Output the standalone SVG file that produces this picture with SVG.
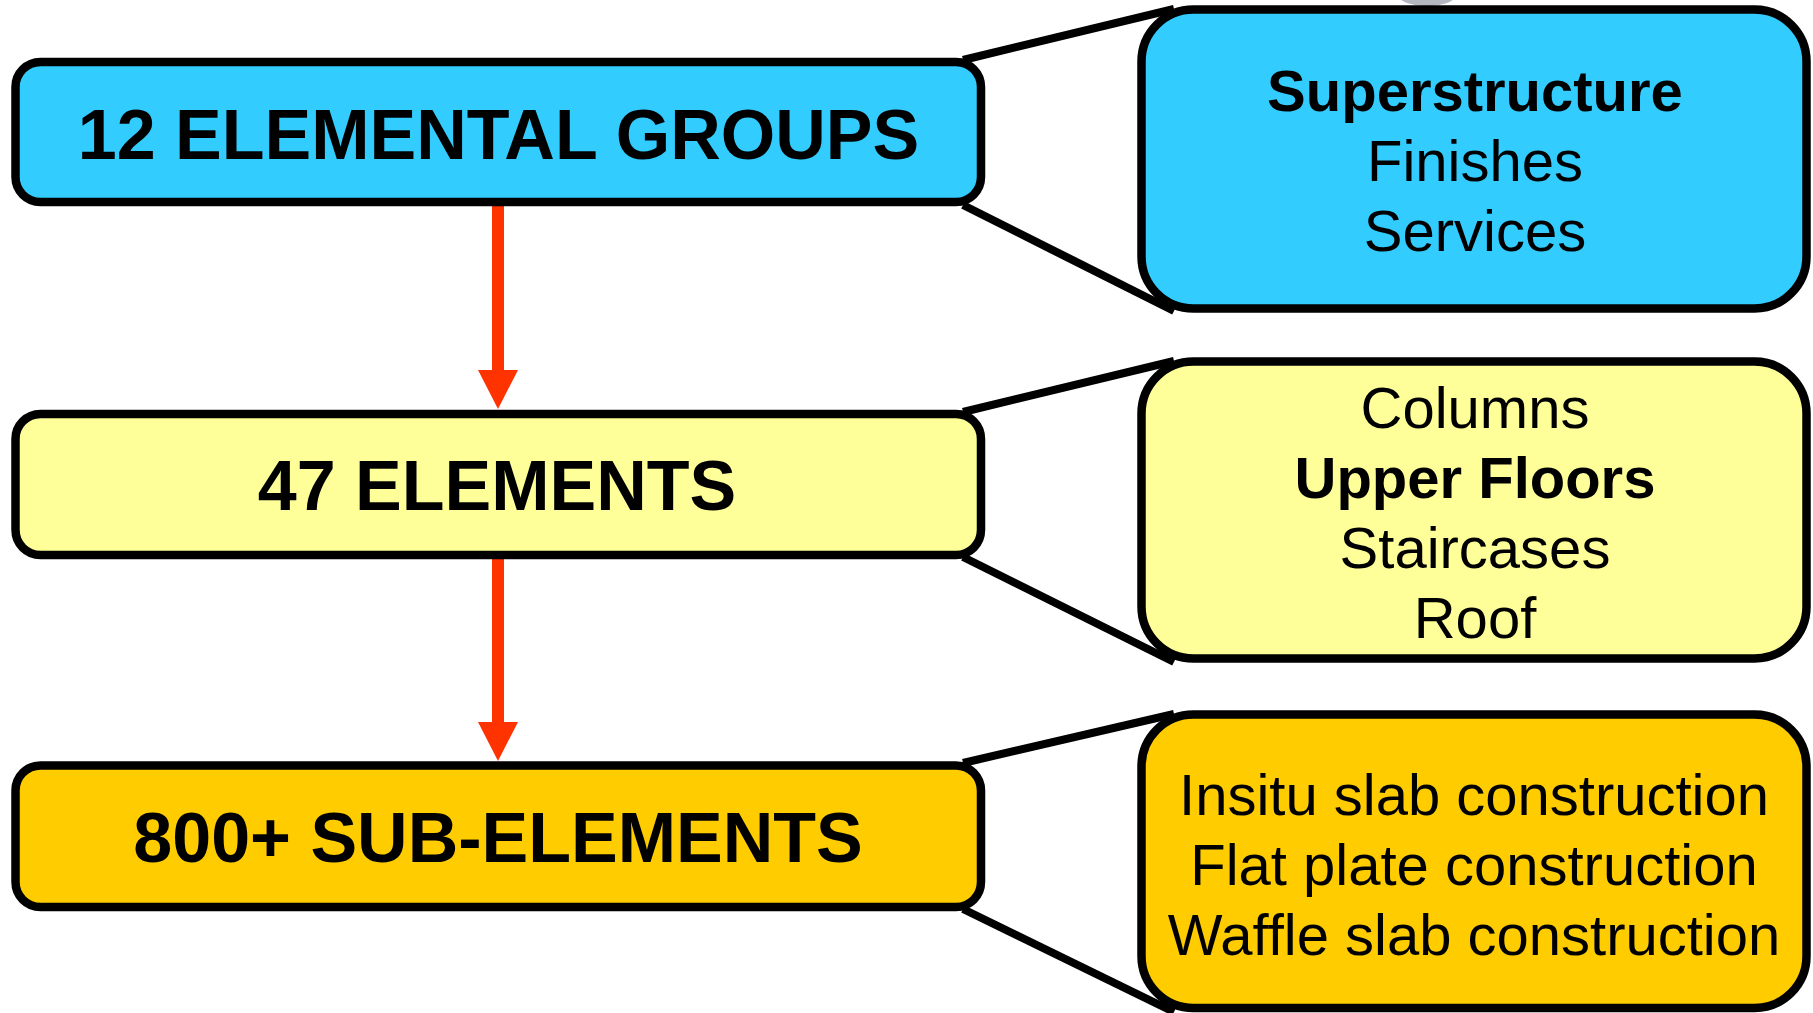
<svg xmlns="http://www.w3.org/2000/svg" width="1813" height="1013" viewBox="0 0 1813 1013">
  <style>
    .box { stroke: #000; stroke-width: 8.5; }
    .blue { fill: #33CCFF; }
    .pale { fill: #FFFF99; }
    .gold { fill: #FFCC00; }
    .main { font-family: "Liberation Sans", Arial, sans-serif; font-weight: bold; font-size: 70px; text-anchor: middle; fill: #000; }
    .sub { font-family: "Liberation Sans", Arial, sans-serif; font-size: 58px; text-anchor: middle; fill: #000; }
    .b { font-weight: bold; }
    .conn line { stroke: #000; stroke-width: 8; }
    .conn line.arrow { stroke: #FF3300; stroke-width: 12; }
    .head { fill: #FF3300; }
  </style>
  <rect width="1813" height="1013" fill="#fff"/>
  <ellipse cx="1427" cy="-3" rx="27" ry="9" fill="#B4B6C0"/>

  <g id="connectors" class="conn">
    <line x1="963" y1="60" x2="1174" y2="9"/>
    <line x1="963" y1="205" x2="1174" y2="311"/>
    <line x1="963" y1="412" x2="1174" y2="361"/>
    <line x1="963" y1="557" x2="1174" y2="662"/>
    <line x1="963" y1="763" x2="1174" y2="714"/>
    <line x1="963" y1="909" x2="1174" y2="1012"/>
    <line class="arrow" x1="498" y1="204" x2="498" y2="372"/>
    <polygon class="head" points="478,370 518,370 498,409"/>
    <line class="arrow" x1="498" y1="557" x2="498" y2="724"/>
    <polygon class="head" points="478,722 518,722 498,761"/>
  </g>

  <g id="groups">
    <rect class="box blue" x="15.5" y="62" width="965.5" height="140" rx="25"/>
    <text class="main" x="498.5" y="159">12 ELEMENTAL GROUPS</text>
  </g>
  <g id="elements">
    <rect class="box pale" x="15.5" y="414" width="965.5" height="141" rx="25"/>
    <text class="main" x="497" y="510">47 ELEMENTS</text>
  </g>
  <g id="subelements">
    <rect class="box gold" x="15.5" y="765.5" width="965.5" height="141.5" rx="25"/>
    <text class="main" x="498" y="862">800+ SUB-ELEMENTS</text>
  </g>

  <g id="groups-detail">
    <rect class="box blue" x="1141.5" y="9.5" width="665" height="299" rx="52"/>
    <text class="sub b" x="1475" y="111">Superstructure</text>
    <text class="sub" x="1475" y="181">Finishes</text>
    <text class="sub" x="1475" y="251">Services</text>
  </g>
  <g id="elements-detail">
    <rect class="box pale" x="1141.5" y="361.5" width="665" height="297" rx="52"/>
    <text class="sub" x="1475" y="428">Columns</text>
    <text class="sub b" x="1475" y="498">Upper Floors</text>
    <text class="sub" x="1475" y="568">Staircases</text>
    <text class="sub" x="1475" y="638">Roof</text>
  </g>
  <g id="subelements-detail">
    <rect class="box gold" x="1141.5" y="714.5" width="665" height="293.5" rx="52"/>
    <text class="sub" x="1474" y="815">Insitu slab construction</text>
    <text class="sub" x="1474" y="885">Flat plate construction</text>
    <text class="sub" x="1474" y="955">Waffle slab construction</text>
  </g>
</svg>
